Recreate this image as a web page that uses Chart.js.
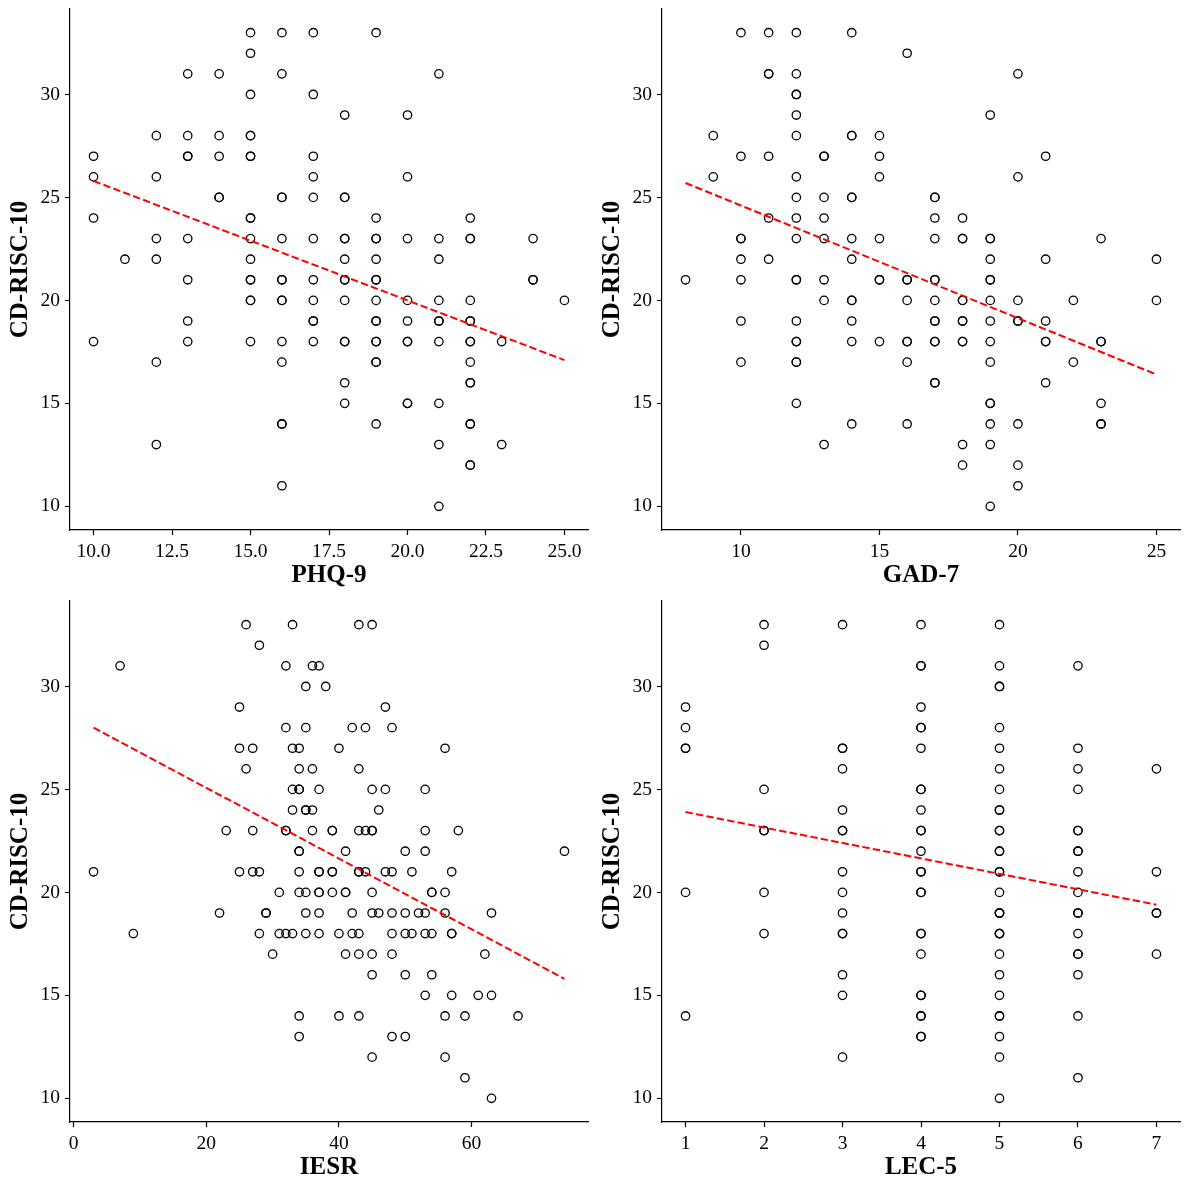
<!DOCTYPE html>
<html lang="en">

<head>
  <meta charset="UTF-8">
  <title>CD-RISC-10 scatter plots</title>
  <script src="https://cdn.jsdelivr.net/npm/chart.js"></script>
  <style>
    body {
      margin: 0;
      background: #fff;
    }

    .panel {
      position: absolute;
    }
  </style>
</head>

<body>
  <div class="panel" style="left:0;top:0"><canvas id="chartPhq" width="594" height="594"></canvas></div>
  <div class="panel" style="left:594px;top:0"><canvas id="chartGad" width="595" height="594"></canvas></div>
  <div class="panel" style="left:0;top:594px"><canvas id="chartIesr" width="594" height="595"></canvas></div>
  <div class="panel" style="left:594px;top:594px"><canvas id="chartLec" width="595" height="595"></canvas></div>

  <script>
    // PHQ-9 scores and the CD-RISC-10 scores seen at each of them
    const phqLevels = [10, 11, 12, 13, 14, 15, 16, 17, 18, 19, 20, 21, 22, 23, 24, 25];
    const phqResilience = [
      [27, 26, 24, 18],
      [22],
      [28, 26, 23, 22, 17, 13],
      [31, 28, 27, 27, 23, 21, 19, 18],
      [31, 28, 27, 25, 25],
      [33, 32, 30, 28, 28, 27, 27, 24, 24, 23, 22, 21, 21, 20, 20, 18],
      [33, 31, 25, 25, 23, 21, 21, 20, 20, 18, 17, 14, 14, 11],
      [33, 30, 27, 26, 25, 23, 21, 20, 19, 19, 18],
      [29, 25, 25, 23, 23, 22, 21, 21, 20, 18, 18, 16, 15],
      [33, 24, 23, 23, 22, 21, 21, 20, 19, 19, 18, 18, 17, 17, 14],
      [29, 26, 23, 20, 19, 18, 18, 15, 15],
      [31, 23, 22, 20, 19, 19, 18, 15, 13, 10],
      [24, 23, 23, 20, 19, 19, 18, 18, 17, 16, 16, 14, 14, 12, 12],
      [18, 13],
      [23, 21, 21],
      [20]
    ];
    const phqFitX = [10, 25];
    const phqFitY = [25.8, 17.1];
    const phqTicks = [10, 12.5, 15, 17.5, 20, 22.5, 25];
    const phqTickLabels = ['10.0', '12.5', '15.0', '17.5', '20.0', '22.5', '25.0'];

    // GAD-7
    const gadLevels = [8, 9, 10, 11, 12, 13, 14, 15, 16, 17, 18, 19, 20, 21, 22, 23, 25];
    const gadResilience = [
      [21],
      [28, 26],
      [33, 27, 23, 23, 22, 21, 19, 17],
      [33, 31, 31, 27, 24, 22],
      [33, 31, 30, 30, 29, 28, 26, 25, 24, 23, 21, 21, 19, 18, 18, 17, 17, 15],
      [27, 27, 25, 24, 23, 21, 20, 13],
      [33, 28, 28, 25, 25, 23, 22, 20, 20, 19, 18, 14],
      [28, 27, 26, 23, 21, 21, 18],
      [32, 21, 21, 20, 18, 18, 17, 14],
      [25, 25, 24, 23, 21, 21, 20, 19, 19, 18, 18, 16, 16],
      [24, 23, 23, 20, 20, 19, 19, 18, 18, 13, 12],
      [29, 23, 23, 22, 21, 21, 20, 19, 18, 17, 15, 15, 14, 13, 10],
      [31, 26, 20, 19, 19, 14, 12, 11],
      [27, 22, 19, 18, 18, 16],
      [20, 17],
      [23, 18, 18, 15, 14, 14],
      [22, 20]
    ];
    const gadFitX = [8, 25];
    const gadFitY = [25.7, 16.4];
    const gadTicks = [10, 15, 20, 25];
    const gadTickLabels = ['10', '15', '20', '25'];

    // IESR: grouped the other way, by CD-RISC-10 score, since IESR values spread out
    const iesrResilienceLevels = [33, 32, 31, 30, 29, 28, 27, 26, 25, 24, 23, 22, 21, 20, 19, 18, 17, 16, 15, 14, 13, 12, 11, 10];
    const iesrScores = [
      [26, 33, 43, 45],
      [28],
      [7, 32, 36, 37],
      [35, 38],
      [25, 47],
      [32, 35, 42, 44, 48],
      [25, 27, 33, 34, 40, 56],
      [26, 34, 36, 43],
      [33, 34, 34, 37, 45, 47, 53],
      [33, 35, 35, 36, 46],
      [23, 27, 32, 32, 36, 39, 39, 43, 44, 45, 45, 53, 58],
      [34, 34, 41, 50, 53, 74],
      [3, 25, 27, 28, 34, 37, 37, 39, 39, 43, 43, 44, 47, 48, 51, 57],
      [31, 34, 35, 37, 37, 39, 41, 41, 45, 54, 54, 56],
      [22, 29, 29, 35, 37, 42, 45, 46, 48, 50, 52, 53, 56, 63],
      [9, 28, 31, 32, 33, 35, 37, 40, 42, 43, 48, 50, 51, 53, 54, 57, 57],
      [30, 41, 43, 45, 48, 62],
      [45, 50, 54],
      [53, 57, 61, 63],
      [34, 40, 43, 56, 59, 67],
      [34, 48, 50],
      [45, 56],
      [59],
      [63]
    ];
    const iesrFitX = [3, 74];
    const iesrFitY = [28.0, 15.8];
    const iesrTicks = [0, 20, 40, 60];
    const iesrTickLabels = ['0', '20', '40', '60'];

    // LEC-5
    const lecLevels = [1, 2, 3, 4, 5, 6, 7];
    const lecResilience = [
      [29, 28, 27, 27, 20, 14],
      [33, 32, 25, 23, 23, 20, 18],
      [33, 27, 27, 26, 24, 23, 23, 21, 20, 19, 18, 18, 16, 15, 12],
      [33, 31, 31, 29, 28, 28, 27, 25, 25, 24, 23, 23, 22, 21, 21, 20, 20, 18, 18, 17, 15, 15, 14, 14, 13, 13],
      [33, 31, 30, 30, 28, 27, 26, 25, 24, 24, 23, 23, 22, 22, 21, 21, 20, 19, 19, 19, 18, 18, 18, 17, 16, 15, 14, 14, 13, 12, 10],
      [31, 27, 26, 25, 23, 23, 22, 22, 21, 20, 19, 19, 18, 17, 17, 16, 14, 11],
      [26, 21, 19, 19, 17]
    ];
    const lecFitX = [1, 7];
    const lecFitY = [23.9, 19.4];
    const lecTicks = [1, 2, 3, 4, 5, 6, 7];
    const lecTickLabels = ['1', '2', '3', '4', '5', '6', '7'];

    const yTicks = [10, 15, 20, 25, 30];
    const yTickLabels = ['10', '15', '20', '25', '30'];

    Chart.defaults.font.family = "'Liberation Serif', 'Times New Roman', serif";
    Chart.defaults.color = '#000';

    // points from x levels with a list of y per level
    function byColumn(levels, lists) {
      const pts = [];
      levels.forEach((x, i) => lists[i].forEach(y => pts.push({ x: x, y: y })));
      return pts;
    }

    // points from y levels with a list of x per level
    function byRow(levels, lists) {
      const pts = [];
      levels.forEach((y, i) => lists[i].forEach(x => pts.push({ x: x, y: y })));
      return pts;
    }

    // matplotlib style 5% margin round the data
    function padRange(values) {
      const lo = Math.min(...values), hi = Math.max(...values);
      const m = (hi - lo) * 0.05;
      return [lo - m, hi + m];
    }

    function axisOptions(ticks, labels, range, title, fitSize, horizontal, titlePad) {
      return {
        type: 'linear',
        min: range[0],
        max: range[1],
        afterBuildTicks: s => { s.ticks = ticks.map(v => ({ value: v })); },
        afterFit: s => {
          // fixed axis size, and no extra room kept for the end labels
          if (horizontal) {
            s.height = fitSize;
            s.paddingLeft = 0;
            s.paddingRight = 0;
          } else {
            s.width = fitSize;
            s.paddingTop = 0;
            s.paddingBottom = 0;
          }
        },
        ticks: {
          callback: v => labels[ticks.indexOf(v)],
          font: { size: 19.5 },
          color: '#000',
          padding: 5,
          maxRotation: 0,
          autoSkip: false
        },
        grid: {
          drawOnChartArea: false,
          drawTicks: true,
          tickLength: 5,
          tickColor: '#000',
          tickWidth: 1.2
        },
        border: { display: true, color: '#000', width: 1.2 },
        title: {
          display: true,
          text: title,
          color: '#000',
          font: { size: 25, weight: 'bold' },
          padding: titlePad
        }
      };
    }

    function makePanel(id, points, fitX, fitY, xTicks, xLabels, xTitle, box) {
      const xRange = padRange(points.map(p => p.x));
      const yRange = padRange(points.map(p => p.y));
      return new Chart(document.getElementById(id), {
        type: 'scatter',
        data: {
          datasets: [{
            data: points,
            pointStyle: 'circle',
            pointRadius: 4.2,
            pointBorderWidth: 1.3,
            pointBorderColor: '#000',
            pointBackgroundColor: 'rgba(0,0,0,0)',
            order: 1
          }, {
            type: 'line',
            data: fitX.map((x, i) => ({ x: x, y: fitY[i] })),
            borderColor: '#ff0000',
            borderWidth: 2,
            borderDash: [7.4, 3.2],
            pointRadius: 0,
            fill: false,
            order: 0
          }]
        },
        options: {
          responsive: false,
          animation: false,
          layout: { padding: box.padding },
          plugins: { legend: { display: false }, tooltip: { enabled: false } },
          scales: {
            x: axisOptions(xTicks, xLabels, xRange, xTitle, 64, true, { top: 0, bottom: 3 }),
            y: axisOptions(yTicks, yTickLabels, yRange, 'CD-RISC-10', box.yWidth, false, { top: box.yTitlePad, bottom: 0 })
          }
        }
      });
    }

    makePanel('chartPhq', byColumn(phqLevels, phqResilience), phqFitX, phqFitY, phqTicks, phqTickLabels, 'PHQ-9',
      { padding: { top: 9, right: 6, left: 0, bottom: 0 }, yWidth: 70, yTitlePad: 6 });
    makePanel('chartGad', byColumn(gadLevels, gadResilience), gadFitX, gadFitY, gadTicks, gadTickLabels, 'GAD-7',
      { padding: { top: 9, right: 9, left: 0, bottom: 0 }, yWidth: 68, yTitlePad: 4 });
    makePanel('chartIesr', byRow(iesrResilienceLevels, iesrScores), iesrFitX, iesrFitY, iesrTicks, iesrTickLabels, 'IESR',
      { padding: { top: 7, right: 6, left: 0, bottom: 3 }, yWidth: 70, yTitlePad: 6 });
    makePanel('chartLec', byColumn(lecLevels, lecResilience), lecFitX, lecFitY, lecTicks, lecTickLabels, 'LEC-5',
      { padding: { top: 7, right: 9, left: 0, bottom: 3 }, yWidth: 68, yTitlePad: 4 });
  </script>

</body>

</html>
